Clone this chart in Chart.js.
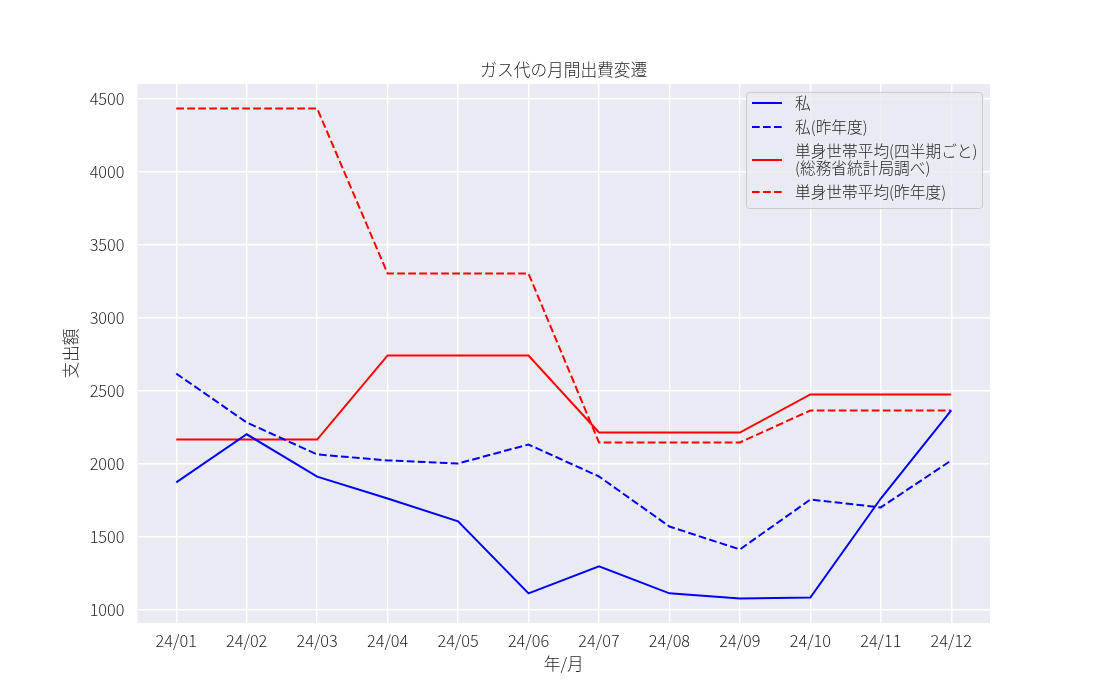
<!DOCTYPE html>
<html>
<head>
<meta charset="utf-8">
<script src="https://cdn.jsdelivr.net/npm/chart.js@4"></script>
<style>
  body { margin: 0; background: #fff; }
  #wrap { width: 1100px; height: 700px; }
</style>
</head>
<body>
<div id="wrap"><canvas id="gasChart" width="1100" height="700"></canvas></div>
<script>
// 月ラベル
const months = ['24/01', '24/02', '24/03', '24/04', '24/05', '24/06',
                '24/07', '24/08', '24/09', '24/10', '24/11', '24/12'];
const yTicks = [1000, 1500, 2000, 2500, 3000, 3500, 4000, 4500];

// 支出データ
const mine = [1870, 2200, 1910, 1760, 1603, 1110, 1295, 1110, 1075, 1082, 1760, 2363];
const mineLastYear = [2616, 2281, 2062, 2021, 2000, 2130, 1911, 1568, 1411, 1753, 1699, 2021];
const singleAvg = [2164, 2164, 2164, 2740, 2740, 2740, 2212, 2212, 2212, 2473, 2473, 2473];
const singleAvgLastYear = [4432, 4432, 4432, 3301, 3301, 3301, 2144, 2144, 2144, 2363, 2363, 2363];

const FONT = '"Noto Sans CJK JP", "Noto Sans", sans-serif';
const TEXT = '#262626';
const DASH = [7.7, 3.3];
const WEIGHT = 300;

function toPoints(arr) {
    return arr.map((v, i) => ({ x: i, y: v }));
}

// プロット背景 + タイトル (プロット領域の中央に合わせる)
const plotBg = {
    id: 'plotBg',
    beforeDraw(chart) {
        const { ctx, chartArea: a } = chart;
        ctx.save();
        ctx.fillStyle = '#EAEAF2';
        ctx.fillRect(a.left, a.top, a.right - a.left, a.bottom - a.top);
        ctx.font = WEIGHT + ' 16.7px ' + FONT;
        ctx.fillStyle = TEXT;
        ctx.textAlign = 'center';
        ctx.textBaseline = 'middle';
        ctx.fillText('ガス代の月間出費変遷', (a.left + a.right) / 2, 70);
        ctx.restore();
    }
};

// 凡例 (グラフ内右上)
const innerLegend = {
    id: 'innerLegend',
    afterDraw(chart) {
        const ctx = chart.ctx;
        const rows = [
            { ds: 0, lines: ['私'], y: 103 },
            { ds: 1, lines: ['私(昨年度)'], y: 127 },
            { ds: 2, lines: ['単身世帯平均(四半期ごと)', '(総務省統計局調べ)'], y: 160 },
            { ds: 3, lines: ['単身世帯平均(昨年度)'], y: 192 }
        ];
        ctx.save();
        // 枠
        const bx = 746, by = 92, bw = 236, bh = 116, r = 3;
        ctx.beginPath();
        ctx.roundRect(bx + 0.5, by + 0.5, bw, bh, r);
        ctx.fillStyle = 'rgba(234,234,242,0.8)';
        ctx.fill();
        ctx.strokeStyle = '#CCCCCC';
        ctx.lineWidth = 1;
        ctx.stroke();

        ctx.font = WEIGHT + ' 15.7px ' + FONT;
        ctx.textBaseline = 'middle';
        ctx.fillStyle = TEXT;
        rows.forEach(row => {
            const ds = chart.data.datasets[row.ds];
            ctx.beginPath();
            ctx.strokeStyle = ds.borderColor;
            ctx.lineWidth = 2;
            ctx.setLineDash(ds.borderDash || []);
            ctx.moveTo(752, row.y);
            ctx.lineTo(782, row.y);
            ctx.stroke();
            ctx.setLineDash([]);
            const lh = 17;
            const start = row.y - (row.lines.length - 1) * lh / 2;
            row.lines.forEach((t, k) => {
                ctx.fillText(t, 795, start + k * lh);
            });
        });
        ctx.restore();
    }
};

const ctx = document.getElementById('gasChart').getContext('2d');
const gasChart = new Chart(ctx, {
    type: 'line',
    data: {
        datasets: [
            {
                label: '私',
                data: toPoints(mine),
                borderColor: '#0000FF',
                borderWidth: 2,
            },
            {
                label: '私(昨年度)',
                data: toPoints(mineLastYear),
                borderColor: '#0000FF',
                borderWidth: 2,
                borderDash: DASH,
            },
            {
                label: '単身世帯平均(四半期ごと)(総務省統計局調べ)',
                data: toPoints(singleAvg),
                borderColor: '#FF0000',
                borderWidth: 2,
            },
            {
                label: '単身世帯平均(昨年度)',
                data: toPoints(singleAvgLastYear),
                borderColor: '#FF0000',
                borderWidth: 2,
                borderDash: DASH,
            }
        ]
    },
    options: {
        responsive: false,
        animation: false,
        layout: {
            padding: { left: 0, top: 84, right: 110, bottom: 0 }
        },
        elements: {
            point: { radius: 0 },
            line: { tension: 0, fill: false }
        },
        plugins: {
            legend: { display: false },
            tooltip: { enabled: false },
            title: { display: false }
        },
        scales: {
            x: {
                type: 'linear',
                min: -0.55,
                max: 11.55,
                afterBuildTicks: scale => {
                    scale.ticks = months.map((m, i) => ({ value: i }));
                },
                afterFit: scale => { scale.height = 77; },
                ticks: {
                    color: TEXT,
                    padding: 8,
                    maxRotation: 0,
                    autoSkip: false,
                    font: { family: FONT, size: 16.3, weight: WEIGHT },
                    callback: (v) => months[v]
                },
                grid: { color: '#FFFFFF', lineWidth: 1.4, drawTicks: false },
                border: { display: false },
                title: {
                    display: true,
                    text: '年/月',
                    color: TEXT,
                    font: { family: FONT, size: 16.7, weight: WEIGHT },
                    padding: { top: 0, bottom: 26 }
                }
            },
            y: {
                min: 907,
                max: 4600,
                afterBuildTicks: scale => {
                    scale.ticks = yTicks.map(v => ({ value: v }));
                },
                afterFit: scale => { scale.width = 137.5; },
                ticks: {
                    color: TEXT,
                    padding: 13,
                    font: { family: FONT, size: 16.3, weight: WEIGHT },
                    callback: (v) => String(v)
                },
                grid: { color: '#FFFFFF', lineWidth: 1.4, drawTicks: false },
                border: { display: false },
                title: {
                    display: true,
                    text: '支出額',
                    color: TEXT,
                    font: { family: FONT, size: 16.7, weight: WEIGHT },
                    padding: { top: 61, bottom: 0 }
                }
            }
        }
    },
    plugins: [plotBg, innerLegend]
});
</script>
</body>
</html>
